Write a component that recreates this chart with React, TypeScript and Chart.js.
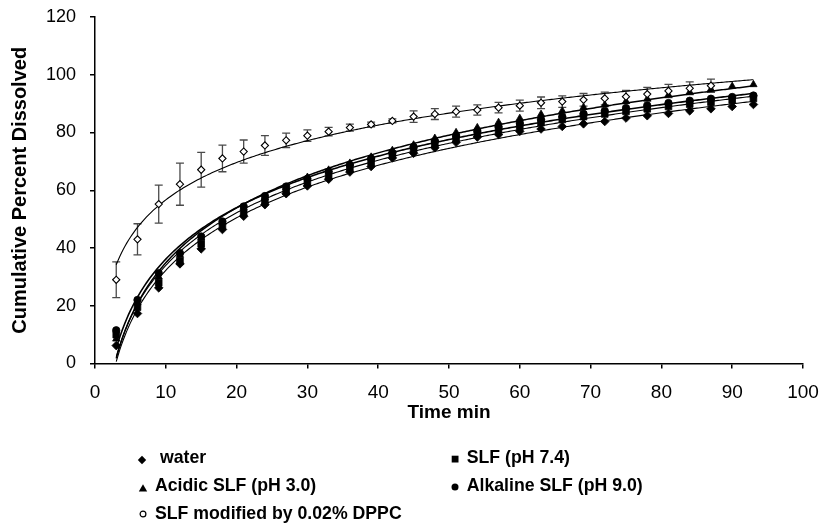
import React, { useEffect, useRef } from 'react';
import { Chart, registerables } from 'chart.js';

Chart.register(...registerables);

// ---- data ----
const times = [3, 6, 9, 12, 15, 18, 21, 24, 27, 30, 33, 36, 39, 42, 45, 48, 51, 54, 57, 60, 63, 66, 69, 72, 75, 78, 81, 84, 87, 90, 93];

const waterValues = [6.2, 17.3, 26.2, 34.5, 39.7, 46.4, 51, 55, 58.8, 61.5, 63.8, 66.3, 68.2, 71.2, 72.8, 74.7, 76.6, 78.4, 79.3, 80.4, 81.2, 82.1, 83, 83.8, 85, 85.8, 86.6, 87.5, 88.2, 89, 89.7];
const slfValues = [10, 19.5, 28, 35.5, 41.5, 47.5, 52, 56, 59.5, 62.5, 65, 67.5, 69.8, 72, 74, 76, 77.8, 79.5, 81, 82.2, 83.4, 84.5, 85.5, 86.4, 87.3, 88.2, 89, 89.8, 90.5, 91.2, 91.8];
const acidicValues = [8.5, 21, 30, 37.5, 43.5, 48.8, 54, 57.5, 61, 64.5, 67, 69.4, 71.5, 73.8, 75.7, 78, 80, 81.7, 83.5, 84.9, 86.3, 87.5, 88.7, 89.6, 90.8, 91.6, 93, 94, 95, 96, 96.6];
const alkalineValues = [11.5, 22, 31.3, 38.2, 44, 49.2, 54.4, 58, 61.3, 64, 66.5, 68.8, 71, 73, 75, 77, 78.8, 80.5, 82, 83.3, 84.5, 85.5, 86.5, 87.5, 88.5, 89.4, 90.2, 91, 91.7, 92.3, 92.8];

const dppcTimes = [3, 6, 9, 12, 15, 18, 21, 24, 27, 30, 33, 36, 39, 42, 45, 48, 51, 54, 57, 60, 63, 66, 69, 72, 75, 78, 81, 84, 87];
const dppcValues = [29, 43, 55.2, 62.1, 67.1, 71, 73.4, 75.5, 77.3, 78.9, 80.3, 81.7, 82.8, 84, 85.5, 86.4, 87.2, 87.8, 88.6, 89.3, 90.3, 90.7, 91.3, 91.8, 92.4, 93.3, 94.4, 95.3, 96.2];
const dppcErrors = [6.2, 5.4, 6.6, 7.3, 6, 4.6, 4, 3.4, 2.5, 2, 1.5, 1.2, 0.8, 0.7, 2, 1.9, 1.9, 1.8, 1.8, 1.9, 2, 2, 2.2, 2.2, 2.2, 2.3, 2.3, 2.2, 2.3];

const seriesNames = [' water', 'SLF (pH 7.4)', 'Acidic SLF (pH 3.0)', 'Alkaline SLF (pH 9.0)', 'SLF modified by 0.02% DPPC'];
const xAxisTitle = 'Time min';
const yAxisTitle = 'Cumulative Percent Dissolved';

const FONT = "'Liberation Sans', Arial, Helvetica, sans-serif";

// Excel-style logarithmic trendline (least squares on ln x), computed from the data
function logFit(xs: number[], ys: number[]) {
  const n = xs.length;
  let sx = 0, sy = 0, sxx = 0, sxy = 0;
  for (let i = 0; i < n; i++) {
    const lx = Math.log(xs[i]);
    sx += lx; sy += ys[i]; sxx += lx * lx; sxy += lx * ys[i];
  }
  const a = (n * sxy - sx * sy) / (n * sxx - sx * sx);
  const b = (sy - a * sx) / n;
  return { a, b };
}

function trendPoints(xs: number[], ys: number[], from: number, to: number) {
  const { a, b } = logFit(xs, ys);
  const pts: { x: number; y: number }[] = [];
  for (let x = from; x <= to + 1e-9; x += 0.25) pts.push({ x, y: a * Math.log(x) + b });
  return pts;
}

const toPts = (xs: number[], ys: number[]) => xs.map((x, i) => ({ x, y: ys[i] }));

const errorBarPlugin = {
  id: 'dppcErrorBars',
  beforeDatasetsDraw(chart: any) {
    const { ctx, scales } = chart;
    const xs = scales.x, ys = scales.y;
    ctx.save();
    ctx.strokeStyle = '#4a4a4a';
    ctx.lineWidth = 1.3;
    dppcTimes.forEach((t, i) => {
      const px = xs.getPixelForValue(t);
      const top = ys.getPixelForValue(dppcValues[i] + dppcErrors[i]);
      const bot = ys.getPixelForValue(dppcValues[i] - dppcErrors[i]);
      ctx.beginPath();
      ctx.moveTo(px, top); ctx.lineTo(px, bot);
      ctx.moveTo(px - 4, top); ctx.lineTo(px + 4, top);
      ctx.moveTo(px - 4, bot); ctx.lineTo(px + 4, bot);
      ctx.stroke();
    });
    ctx.restore();
  },
};

function Marker({ kind }: { kind: string }) {
  const s = 10;
  let shape: any = null;
  if (kind === 'diamond') shape = <polygon points="5,0.8 9.2,5 5,9.2 0.8,5" fill="#000" />;
  else if (kind === 'square') shape = <rect x="1.7" y="1.7" width="6.8" height="6.8" fill="#000" />;
  else if (kind === 'triangle') shape = <polygon points="5,1.2 9.2,8.6 0.8,8.6" fill="#000" />;
  else if (kind === 'circle') shape = <circle cx="5" cy="5" r="3.5" fill="#000" />;
  else shape = <circle cx="5" cy="5" r="2.9" fill="#fff" stroke="#000" strokeWidth="1.2" />;
  return <svg width={s} height={s} style={{ display: 'block' }}>{shape}</svg>;
}

const legendItems = [
  { name: seriesNames[0], kind: 'diamond', mx: 142, my: 460, tx: 155, ty: 457 },
  { name: seriesNames[1], kind: 'square', mx: 455, my: 459, tx: 466.7, ty: 457 },
  { name: seriesNames[2], kind: 'triangle', mx: 143, my: 487.5, tx: 155, ty: 485.3 },
  { name: seriesNames[3], kind: 'circle', mx: 455, my: 487, tx: 466.7, ty: 485.3 },
  { name: seriesNames[4], kind: 'open', mx: 142.7, my: 514, tx: 155, ty: 512.8 },
];

export default function App() {
  const ref = useRef<HTMLCanvasElement>(null);

  useEffect(() => {
    const pointBase = { showLine: false, borderColor: '#000', backgroundColor: '#000', pointBorderWidth: 0.8 };
    const curveBase = { showLine: true, pointRadius: 0, borderColor: '#000', backgroundColor: '#000', fill: false, tension: 0 };

    const chart = new Chart(ref.current as HTMLCanvasElement, {
      type: 'scatter',
      data: {
        datasets: [
          { ...pointBase, label: seriesNames[4], data: toPts(dppcTimes, dppcValues), pointStyle: 'rectRot', pointRadius: 3.6, backgroundColor: '#fff', pointBorderWidth: 1.1 },
          { ...pointBase, label: seriesNames[2], data: toPts(times, acidicValues), pointStyle: 'triangle', pointRadius: 4.2 },
          { ...pointBase, label: seriesNames[3], data: toPts(times, alkalineValues), pointStyle: 'circle', pointRadius: 3.7 },
          { ...pointBase, label: seriesNames[1], data: toPts(times, slfValues), pointStyle: 'rect', pointRadius: 4.7 },
          { ...pointBase, label: seriesNames[0], data: toPts(times, waterValues), pointStyle: 'rectRot', pointRadius: 4.3 },
          { ...curveBase, label: 'dppc fit', data: trendPoints(dppcTimes, dppcValues, 3, 93), borderWidth: 1.1 },
          { ...curveBase, label: 'acidic fit', data: trendPoints(times, acidicValues, 3, 93), borderWidth: 1.5 },
          { ...curveBase, label: 'alkaline fit', data: trendPoints(times, alkalineValues, 3, 93), borderWidth: 1.6 },
          { ...curveBase, label: 'slf fit', data: trendPoints(times, slfValues, 3, 93), borderWidth: 1.1 },
          { ...curveBase, label: 'water fit', data: trendPoints(times, waterValues, 3, 93), borderWidth: 1.1 },
        ] as any,
      },
      options: {
        responsive: false,
        animation: false,
        events: [],
        layout: { padding: { left: 0, right: 22, top: 17, bottom: 100 } },
        plugins: { legend: { display: false }, tooltip: { enabled: false } },
        scales: {
          x: {
            type: 'linear',
            min: 0,
            max: 100,
            afterFit: (s: any) => { s.height = 66.5; s.paddingRight = 0; s.paddingLeft = 0; },
            ticks: { stepSize: 10, color: '#000', font: { family: FONT, size: 19 }, padding: 13 },
            grid: { drawOnChartArea: false, drawTicks: true, tickLength: 5, color: '#000', lineWidth: 1.5 },
            border: { display: true, color: '#000', width: 1.5 },
            title: { display: true, text: xAxisTitle, color: '#000', font: { family: FONT, size: 19, weight: 'bold' }, padding: { top: 0, bottom: 5.5 } },
          },
          y: {
            type: 'linear',
            min: 0,
            max: 120,
            afterFit: (s: any) => { s.width = 95; s.paddingTop = 0; s.paddingBottom = 0; },
            ticks: { stepSize: 20, color: '#000', font: { family: FONT, size: 18 }, padding: 14 },
            grid: { drawOnChartArea: false, drawTicks: true, tickLength: 5, color: '#000', lineWidth: 1.5 },
            border: { display: true, color: '#000', width: 1.5 },
            title: { display: true, text: yAxisTitle, color: '#000', font: { family: FONT, size: 20, weight: 'bold' }, padding: { top: 8, bottom: 0 } },
          },
        },
      } as any,
      plugins: [errorBarPlugin],
    });
    return () => chart.destroy();
  }, []);

  return (
    <div style={{ position: 'absolute', left: 0, top: 0, width: 825, height: 530, background: '#fff', overflow: 'hidden' }}>
      <canvas ref={ref} width={825} height={530} style={{ display: 'block' }} />
      {legendItems.map((it, i) => (
        <React.Fragment key={i}>
          <div style={{ position: 'absolute', left: it.mx - 5, top: it.my - 5 }}>
            <Marker kind={it.kind} />
          </div>
          <div
            style={{
              position: 'absolute',
              left: it.tx,
              top: it.ty - 10,
              lineHeight: '20px',
              fontFamily: FONT,
              fontWeight: 'bold',
              fontSize: '17.7px',
              color: '#000',
              whiteSpace: 'pre',
            }}
          >
            {it.name}
          </div>
        </React.Fragment>
      ))}
    </div>
  );
}
